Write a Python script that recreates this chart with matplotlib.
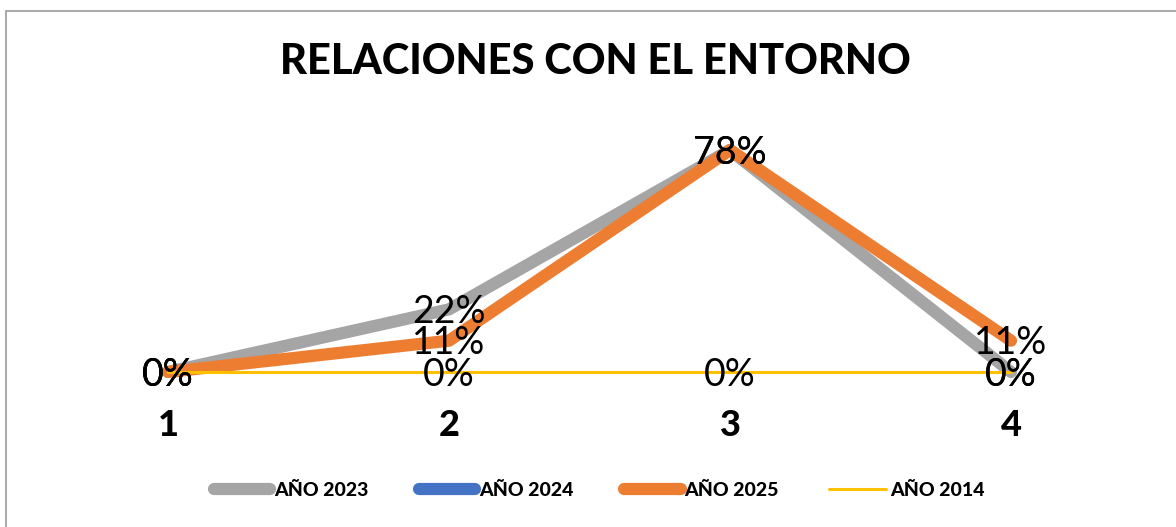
import matplotlib
matplotlib.use("Agg")
import matplotlib.pyplot as plt
import numpy as np

plt.rcParams["font.family"] = ["Lato", "DejaVu Sans"]

# categories and series (fractions)
categories = [1, 2, 3, 4]
series_names = ["AÑO 2023", "AÑO 2024", "AÑO 2025", "AÑO 2014"]
y2023 = [0.00, 0.22, 0.78, 0.00]
y2024 = [np.nan, np.nan, np.nan, np.nan]  # no data, legend entry only
y2025 = [0.00, 0.11, 0.78, 0.11]
y2014 = [0.00, 0.00, 0.00, 0.00]

colors = ["#A5A5A5", "#4472C4", "#ED7D31", "#FFC000"]
widths = [8.8, 8.8, 8.8, 2.2]

W, H = 1176, 527
fig = plt.figure(figsize=(W / 100, H / 100), dpi=100)

# outer chart frame (runs past the right / bottom edges)
fig.add_artist(plt.Rectangle((5.5 / W, -0.1), 1.2, 1 - 10.5 / H + 0.1,
                             transform=fig.transFigure, fill=False,
                             edgecolor="#999999", lw=1.2))

ax = fig.add_axes([27.5 / W, (H - 372) / H, 1124 / W, 227.7 / H])
ax.set_xlim(0.5, 4.5)
ax.set_ylim(0, 0.8)

for vals, name, c, lw in zip([y2023, y2024, y2025, y2014], series_names, colors, widths):
    ax.plot(categories, vals, color=c, lw=lw, label=name,
            solid_capstyle="round", solid_joinstyle="round", clip_on=False)

# data labels, centered on points
for vals in [y2023, y2025, y2014]:
    for x, v in zip(categories, vals):
        if np.isnan(v):
            continue
        ax.annotate(f"{v * 100:.0f}%", (x, v), xytext=(0, -2), textcoords="offset points",
                    ha="center", va="center", fontsize=27, color="black", zorder=10)

ax.set_xticks(categories)
ax.set_xticklabels([str(c) for c in categories], fontsize=26, fontweight="black")
ax.tick_params(axis="x", length=0, pad=27)
ax.set_yticks([])
for s in ax.spines.values():
    s.set_visible(False)
ax.patch.set_alpha(0)

fig.text(595 / W, 1 - 62 / H, "RELACIONES CON EL ENTORNO", ha="center", va="center",
         fontsize=30, fontweight="black")

handles, labels = ax.get_legend_handles_labels()
fig.legend(handles, labels, loc="center", bbox_to_anchor=(599 / W, 1 - 490 / H),
           ncol=4, frameon=False, prop={"weight": "black", "size": 14},
           handlelength=2.9, handletextpad=0.2, columnspacing=2.6)

fig.savefig("out.png", dpi=100)
